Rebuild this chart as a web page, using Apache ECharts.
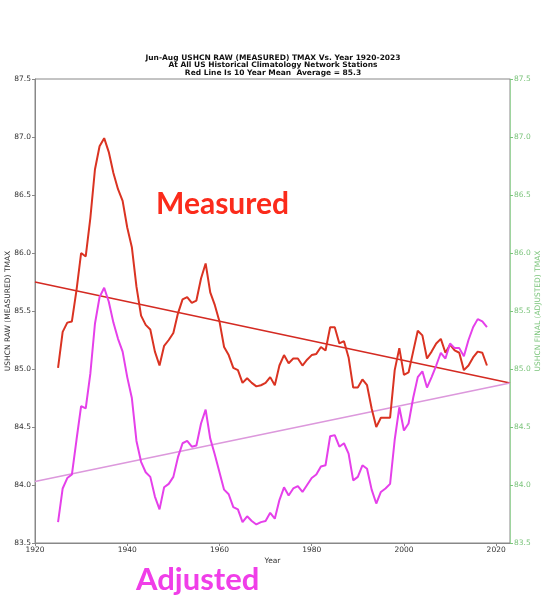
<!DOCTYPE html>
<html>
<head>
<meta charset="utf-8">
<script src="https://cdn.jsdelivr.net/npm/echarts@6/dist/echarts.min.js"></script>
<style>
  html, body { margin: 0; padding: 0; background: #fff; }
  #chart { width: 546px; height: 609px; }
</style>
</head>
<body>
<div id="chart"></div>
<script>
// 10 year running mean, Jun-Aug TMAX
var years = [
  1925, 1926, 1927, 1928, 1929, 1930, 1931, 1932, 1933, 1934,
  1935, 1936, 1937, 1938, 1939, 1940, 1941, 1942, 1943, 1944,
  1945, 1946, 1947, 1948, 1949, 1950, 1951, 1952, 1953, 1954,
  1955, 1956, 1957, 1958, 1959, 1960, 1961, 1962, 1963, 1964,
  1965, 1966, 1967, 1968, 1969, 1970, 1971, 1972, 1973, 1974,
  1975, 1976, 1977, 1978, 1979, 1980, 1981, 1982, 1983, 1984,
  1985, 1986, 1987, 1988, 1989, 1990, 1991, 1992, 1993, 1994,
  1995, 1996, 1997, 1998, 1999, 2000, 2001, 2002, 2003, 2004,
  2005, 2006, 2007, 2008, 2009, 2010, 2011, 2012, 2013, 2014,
  2015, 2016, 2017, 2018
];
var measured = [
  85.01, 85.32, 85.40, 85.41, 85.68, 86.00, 85.97, 86.30, 86.72, 86.92,
  86.99, 86.87, 86.69, 86.55, 86.45, 86.22, 86.05, 85.71, 85.46, 85.38,
  85.34, 85.15, 85.03, 85.20, 85.25, 85.31, 85.48, 85.60, 85.62, 85.57,
  85.59, 85.78, 85.91, 85.66, 85.55, 85.41, 85.19, 85.12, 85.01, 84.99,
  84.88, 84.92, 84.88, 84.85, 84.86, 84.88, 84.93, 84.86, 85.03, 85.12,
  85.05, 85.09, 85.09, 85.03, 85.08, 85.12, 85.13, 85.19, 85.16, 85.36,
  85.36, 85.22, 85.24, 85.10, 84.84, 84.84, 84.91, 84.86, 84.66, 84.50,
  84.58, 84.58, 84.58, 84.99, 85.18, 84.95, 84.97, 85.15, 85.33, 85.29,
  85.09, 85.15, 85.22, 85.26, 85.14, 85.21, 85.16, 85.14, 84.99, 85.03,
  85.10, 85.15, 85.14, 85.03
];
var adjusted = [
  83.68, 83.97, 84.06, 84.09, 84.39, 84.68, 84.66, 84.96, 85.39, 85.62,
  85.70, 85.58, 85.40, 85.26, 85.15, 84.93, 84.75, 84.38, 84.20, 84.11,
  84.07, 83.90, 83.79, 83.98, 84.01, 84.07, 84.24, 84.36, 84.38, 84.33,
  84.34, 84.53, 84.65, 84.40, 84.26, 84.11, 83.96, 83.92, 83.81, 83.79,
  83.68, 83.73, 83.69, 83.66, 83.68, 83.69, 83.76, 83.71, 83.87, 83.98,
  83.91, 83.97, 83.99, 83.94, 84.00, 84.06, 84.09, 84.16, 84.17, 84.42,
  84.43, 84.33, 84.36, 84.27, 84.04, 84.07, 84.17, 84.14, 83.96, 83.84,
  83.94, 83.97, 84.01, 84.39, 84.67, 84.47, 84.53, 84.75, 84.93, 84.98,
  84.84, 84.93, 85.03, 85.14, 85.09, 85.22, 85.18, 85.18, 85.11, 85.25,
  85.36, 85.43, 85.41, 85.36
];
// straight trend lines, ends only
var trendYears = [1920, 2023];
var measuredTrend = [85.75, 84.88];
var adjustedTrend = [84.03, 84.88];

var titleLines = [
  'Jun-Aug USHCN RAW (MEASURED) TMAX Vs. Year 1920-2023',
  'At All US Historical Climatology Network Stations',
  'Red Line Is 10 Year Mean  Average = 85.3'
];

function pairs(xs, ys) {
  return xs.map(function (x, i) { return [x, ys[i]]; });
}

var chart = echarts.init(document.getElementById('chart'));

var tickFont = { fontSize: 7.5, fontFamily: 'DejaVu Sans' };
var oneDecimal = function (v) { return v.toFixed(1); };

chart.setOption({
  backgroundColor: '#fff',
  animation: false,
  title: {
    text: titleLines.join('\n'),
    left: 'center',
    top: 49,
    textStyle: {
      fontSize: 7.5,
      lineHeight: 7.5,
      fontWeight: 'bold',
      fontFamily: 'DejaVu Sans',
      color: '#111'
    }
  },
  grid: {
    left: 35, right: 36, top: 79, bottom: 66,
    containLabel: false,
    outerBoundsMode: 'none',
    show: true, borderColor: '#888', borderWidth: 1
  },
  xAxis: {
    type: 'value',
    min: 1920,
    max: 2023,
    interval: 20,
    name: 'Year',
    nameLocation: 'middle',
    nameGap: 14,
    nameMoveOverlap: false,
    nameTextStyle: { fontSize: 7.5, fontFamily: 'DejaVu Sans', color: '#333' },
    splitLine: { show: false },
    axisLine: { lineStyle: { color: '#888' } },
    axisTick: { length: 3, lineStyle: { color: '#888' } },
    axisLabel: Object.assign({
      color: '#333', margin: 3, showMaxLabel: false,
      formatter: function (v) { return String(v); }
    }, tickFont)
  },
  yAxis: [{
    type: 'value',
    min: 83.5,
    max: 87.5,
    interval: 0.5,
    name: 'USHCN RAW (MEASURED) TMAX',
    nameLocation: 'middle',
    nameGap: 23,
    nameMoveOverlap: false,
    nameTextStyle: { fontSize: 7.5, fontFamily: 'DejaVu Sans', color: '#333' },
    splitLine: { show: false },
    axisLine: { show: true, lineStyle: { color: '#888' } },
    axisTick: { show: true, length: 3, lineStyle: { color: '#888' } },
    axisLabel: Object.assign({ color: '#333', margin: 4, formatter: oneDecimal }, tickFont)
  }, {
    type: 'value',
    position: 'right',
    min: 83.5,
    max: 87.5,
    interval: 0.5,
    name: 'USHCN FINAL (ADJUSTED) TMAX',
    nameLocation: 'middle',
    nameGap: 24,
    nameMoveOverlap: false,
    nameTextStyle: { fontSize: 7.5, fontFamily: 'DejaVu Sans', color: '#7cc47c' },
    splitLine: { show: false },
    axisLine: { show: true, lineStyle: { color: '#9ed49e' } },
    axisTick: { show: true, length: 3, lineStyle: { color: '#7cc47c' } },
    axisLabel: Object.assign({ color: '#7cc47c', margin: 4, formatter: oneDecimal }, tickFont)
  }],
  series: [{
    type: 'line',
    data: pairs(trendYears, measuredTrend),
    symbol: 'none',
    lineStyle: { color: '#d42a22', width: 1.6 },
    z: 2
  }, {
    type: 'line',
    data: pairs(trendYears, adjustedTrend),
    symbol: 'none',
    lineStyle: { color: '#dc98dc', width: 1.6 },
    z: 2
  }, {
    type: 'line',
    data: pairs(years, measured),
    symbol: 'none',
    lineStyle: { color: '#da3322', width: 2 },
    z: 3
  }, {
    type: 'line',
    yAxisIndex: 1,
    data: pairs(years, adjusted),
    symbol: 'none',
    lineStyle: { color: '#e540ea', width: 2 },
    z: 3
  }],
  graphic: [{
    type: 'text',
    left: 156,
    top: 189,
    style: {
      text: 'Measured',
      fill: '#fb2b1b',
      font: 'bold 30px Lato'
    }
  }, {
    type: 'text',
    left: 136,
    top: 564,
    style: {
      text: 'Adjusted',
      fill: '#f03ee8',
      font: 'bold 31px Lato'
    }
  }]
});
</script>
</body>
</html>
